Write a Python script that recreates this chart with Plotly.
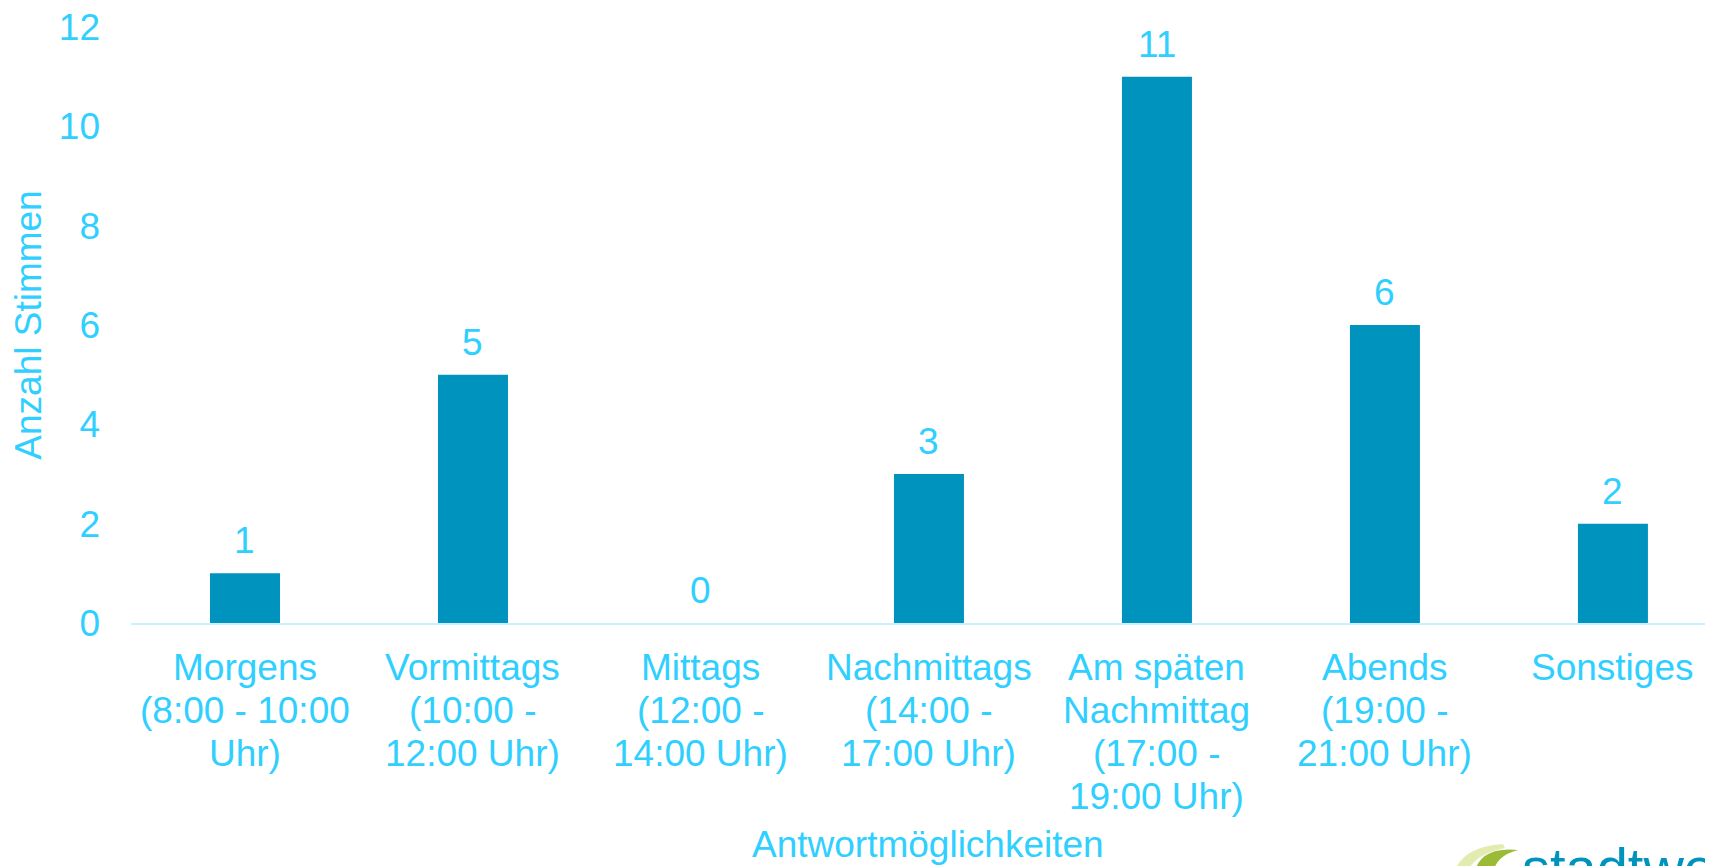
import plotly.graph_objects as go

categories = [
    "Morgens<br>(8:00 - 10:00<br>Uhr)",
    "Vormittags<br>(10:00 -<br>12:00 Uhr)",
    "Mittags<br>(12:00 -<br>14:00 Uhr)",
    "Nachmittags<br>(14:00 -<br>17:00 Uhr)",
    "Am späten<br>Nachmittag<br>(17:00 -<br>19:00 Uhr)",
    "Abends<br>(19:00 -<br>21:00 Uhr)",
    "Sonstiges",
]
votes = [1, 5, 0, 3, 11, 6, 2]
y_ticks = [0, 2, 4, 6, 8, 10, 12]
x_title = "Antwortmöglichkeiten"
y_title = "Anzahl Stimmen"
logo_text = "stadtwerke"

BAR = "#0093BE"
TXT = "#2FCFFF"
FONT = "Liberation Sans, Arial, sans-serif"

W, H = 1713, 866
L, R, T, B = 123, 0, 19, 251
PW, PH = W - L - R, H - T - B

def px(x):
    return (x - L) / PW

def py(y):
    return (H - B - y) / PH

idx = list(range(len(categories)))

fig = go.Figure()
fig.add_trace(go.Bar(
    x=idx, y=votes, marker=dict(color=BAR, line=dict(width=0)),
    width=0.307, hoverinfo="skip",
))

# value labels above bars
for i, v in zip(idx, votes):
    fig.add_annotation(x=i, y=v, xref="x", yref="y", text=str(v), showarrow=False,
                       yanchor="bottom", yshift=10,
                       font=dict(family=FONT, size=37, color=TXT))

# category labels (one line per annotation for tighter line spacing)
LINE0, LINE_STEP = 44, 43
for i, cat in zip(idx, categories):
    for k, line in enumerate(cat.split("<br>")):
        fig.add_annotation(x=i, xref="x", y=-(LINE0 + k * LINE_STEP) / PH, yref="paper",
                           text=line, showarrow=False, yanchor="middle", xanchor="center",
                           font=dict(family=FONT, size=37, color=TXT))

# x axis title
fig.add_annotation(x=px(920), y=py(836), xref="paper", yref="paper", text=x_title,
                   showarrow=False, xanchor="center", yanchor="middle",
                   font=dict(family=FONT, size=37, color=TXT))

# logo (partially cut off at bottom right)
fig.add_shape(type="path", xref="paper", yref="paper", layer="above",
              path=(f"M {px(1445)},{py(866)} Q {px(1455)},{py(838)} {px(1495)},{py(836)} "
                    f"L {px(1497)},{py(840)} Q {px(1466)},{py(846)} {px(1458)},{py(866)} Z"),
              fillcolor="#E3EBB0", line=dict(width=0))
fig.add_shape(type="path", xref="paper", yref="paper", layer="above",
              path=(f"M {px(1466)},{py(866)} Q {px(1472)},{py(838)} {px(1510)},{py(842)} "
                    f"Q {px(1487)},{py(848)} {px(1485)},{py(866)} Z"),
              fillcolor="#9BBB36", line=dict(width=0))
fig.add_annotation(x=px(1512), y=py(826), xref="paper", yref="paper", text=logo_text,
                   showarrow=False, xanchor="left", yanchor="top",
                   font=dict(family=FONT, size=56, color=BAR))

fig.update_layout(
    width=W, height=H,
    margin=dict(l=L, r=R, t=T, b=B, pad=0),
    paper_bgcolor="white", plot_bgcolor="white",
    showlegend=False,
    font=dict(family=FONT, size=37, color=TXT),
    xaxis=dict(
        range=[-0.5, 6.474], tickmode="array", tickvals=idx,
        showticklabels=False,
        showgrid=False, zeroline=False, showline=True, linecolor="#C8F0FF", linewidth=2,
        ticks="",
    ),
    yaxis=dict(
        range=[0, 12], tickmode="array", tickvals=y_ticks,
        showgrid=False, zeroline=False, showline=False, ticks="",
        ticklabelstandoff=30, ticklabeloverflow="allow",
        tickfont=dict(family=FONT, size=37, color=TXT),
        title=dict(text=y_title, standoff=11,
                   font=dict(family=FONT, size=37, color=TXT)),
    ),
)

fig.write_html("out.html")
